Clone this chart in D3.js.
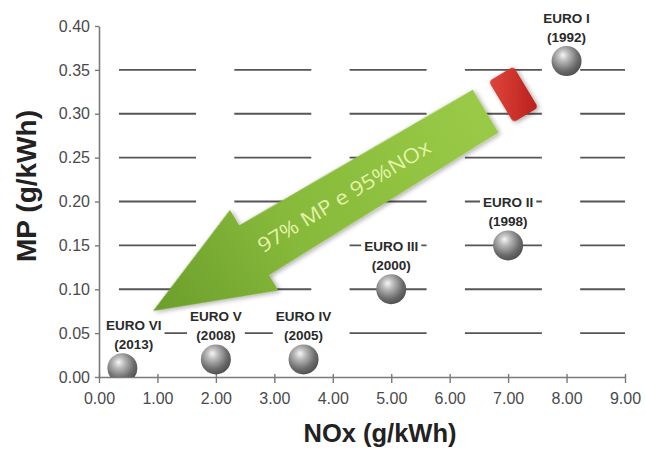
<!DOCTYPE html>
<html>
<head>
<meta charset="utf-8">
<script src="https://cdn.jsdelivr.net/npm/d3@7/dist/d3.min.js"></script>
<style>
  html, body { margin: 0; padding: 0; background: #fff; }
  svg { display: block; font-family: "Liberation Sans", Arial, sans-serif; }
</style>
</head>
<body>
<svg id="chart" width="646" height="451"></svg>
<script>
// Euro emission standards for heavy-duty engines
const stages = ["EURO I", "EURO II", "EURO III", "EURO IV", "EURO V", "EURO VI"];
const years  = ["(1992)", "(1998)", "(2000)", "(2005)", "(2008)", "(2013)"];
const noxValues = [8.0, 7.0, 5.0, 3.5, 2.0, 0.4];     // g/kWh
const mpValues  = [0.36, 0.15, 0.10, 0.02, 0.02, 0.01]; // g/kWh
const xTicks = [0, 1, 2, 3, 4, 5, 6, 7, 8, 9];
const yTicks = [0, 0.05, 0.10, 0.15, 0.20, 0.25, 0.30, 0.35, 0.40];
const gridValues = [0.05, 0.10, 0.15, 0.20, 0.25, 0.30, 0.35];
const arrowText = "97% MP e 95%NOx";
const xTitle = "NOx (g/kWh)";
const yTitle = "MP (g/kWh)";

const svg = d3.select("#chart");
const x = d3.scaleLinear().domain([0, 9]).range([99, 625]);
const y = d3.scaleLinear().domain([0, 0.4]).range([377, 26]);
const fmt = d3.format(".2f");

const defs = svg.append("defs");

// sphere shading
const sg = defs.append("radialGradient").attr("id", "sphere")
  .attr("cx", "40%").attr("cy", "35%").attr("r", "65%").attr("fx", "38%").attr("fy", "30%");
sg.append("stop").attr("offset", "0%").attr("stop-color", "#f6f6f6");
sg.append("stop").attr("offset", "30%").attr("stop-color", "#b8b8b8");
sg.append("stop").attr("offset", "75%").attr("stop-color", "#6c6c6c");
sg.append("stop").attr("offset", "100%").attr("stop-color", "#525252");

// arrow fill
const ag = defs.append("linearGradient").attr("id", "arrowFill")
  .attr("gradientUnits", "userSpaceOnUse")
  .attr("x1", 0).attr("y1", 0).attr("x2", 390).attr("y2", 0);
ag.append("stop").attr("offset", "0%").attr("stop-color", "#6b9d2b");
ag.append("stop").attr("offset", "40%").attr("stop-color", "#86b93a");
ag.append("stop").attr("offset", "100%").attr("stop-color", "#9aca47");

const rg = defs.append("linearGradient").attr("id", "capFill")
  .attr("x1", "0%").attr("y1", "0%").attr("x2", "100%").attr("y2", "100%");
rg.append("stop").attr("offset", "0%").attr("stop-color", "#e0463c");
rg.append("stop").attr("offset", "100%").attr("stop-color", "#b91f1c");

const shadow = defs.append("filter").attr("id", "soft")
  .attr("x", "-20%").attr("y", "-20%").attr("width", "140%").attr("height", "140%");
shadow.append("feGaussianBlur").attr("in", "SourceAlpha").attr("stdDeviation", 2.5).attr("result", "b");
shadow.append("feOffset").attr("in", "b").attr("dx", 1).attr("dy", 2).attr("result", "o");
shadow.append("feComponentTransfer").attr("in", "o").attr("result", "s")
  .append("feFuncA").attr("type", "linear").attr("slope", 0.35);
const merge = shadow.append("feMerge");
merge.append("feMergeNode").attr("in", "s");
merge.append("feMergeNode").attr("in", "SourceGraphic");

defs.append("clipPath").attr("id", "plotClip")
  .append("rect").attr("x", x(0)).attr("y", 0).attr("width", x(9) - x(0) + 20).attr("height", y(0));

// dashed horizontal gridlines
svg.append("g").selectAll("line").data(gridValues).join("line")
  .attr("x1", x(0) + 20).attr("x2", x(9))
  .attr("y1", d => y(d)).attr("y2", d => y(d))
  .attr("stroke", "#555").attr("stroke-width", 1.8)
  .attr("stroke-dasharray", "77 38.3");

// axes
const yAxis = svg.append("g").attr("transform", `translate(${x(0)},0)`)
  .call(d3.axisLeft(y).tickValues(yTicks).tickFormat(fmt).tickSize(4).tickSizeOuter(0).tickPadding(5));
const xAxis = svg.append("g").attr("transform", `translate(0,${y(0)})`)
  .call(d3.axisBottom(x).tickValues(xTicks).tickFormat(fmt).tickSize(6).tickSizeOuter(0).tickPadding(10));
xAxis.selectAll(".tick line").attr("y1", -3);
[xAxis, yAxis].forEach(a => {
  a.select(".domain").attr("stroke", "#7a7a7a").attr("stroke-width", 1.6);
  a.selectAll(".tick line").attr("stroke", "#7a7a7a").attr("stroke-width", 1.4);
  a.selectAll(".tick text").attr("fill", "#4a4a4a")
    .style("font-size", "16px").style("font-family", "'Liberation Sans', Arial, sans-serif");
});

// axis titles
svg.append("text").attr("x", 380).attr("y", 442).attr("text-anchor", "middle")
  .style("font-size", "25.5px").style("font-weight", "bold").attr("fill", "#222").text(xTitle);
svg.append("text").attr("transform", "translate(36,186) rotate(-90)").attr("text-anchor", "middle")
  .style("font-size", "28px").style("font-weight", "bold").attr("fill", "#222").text(yTitle);

// reduction arrow from EURO I toward EURO VI
const arrow = svg.append("g").attr("transform", "translate(153,311) rotate(-31)");
const headLen = 118, headHalf = 47, shaftEnd = 388;
const arrowPath = d3.path();
arrowPath.moveTo(0, 0);
arrowPath.lineTo(headLen, -headHalf);
arrowPath.lineTo(headLen, -29);
arrowPath.lineTo(shaftEnd, -25);
arrowPath.lineTo(shaftEnd, 25);
arrowPath.lineTo(headLen, 29);
arrowPath.lineTo(headLen, headHalf);
arrowPath.closePath();
arrow.append("path").attr("d", arrowPath.toString())
  .attr("fill", "url(#arrowFill)").attr("filter", "url(#soft)");
arrow.append("rect").attr("x", 406).attr("y", -24).attr("width", 29).attr("height", 48)
  .attr("rx", 4).attr("fill", "url(#capFill)").attr("filter", "url(#soft)");
arrow.append("text").attr("x", 223).attr("y", 7).attr("text-anchor", "middle")
  .attr("textLength", 198).attr("lengthAdjust", "spacingAndGlyphs")
  .style("font-size", "20px").style("font-family", "'Open Sans', 'Liberation Sans', sans-serif")
  .attr("fill", "#e4f3a8").text(arrowText);

// stage labels with white backing
const pts = stages.map((s, i) => ({ name: s, year: years[i], nox: noxValues[i], mp: mpValues[i] }));
const labelSize = 13.5;
const labels = svg.append("g");
pts.forEach(d => {
  const g = labels.append("g");
  const t1 = g.append("text").attr("text-anchor", "middle").attr("y", -38)
    .style("font-size", labelSize + "px").style("font-weight", "bold").attr("fill", "#2a2a2a").text(d.name);
  const t2 = g.append("text").attr("text-anchor", "middle").attr("y", -19)
    .style("font-size", labelSize + "px").style("font-weight", "bold").attr("fill", "#2a2a2a").text(d.year);
  const w = Math.max(t1.node().getComputedTextLength(), t2.node().getComputedTextLength()) + 6;
  g.insert("rect", "text").attr("x", -w / 2).attr("y", -50).attr("width", w).attr("height", 35).attr("fill", "#fff");
  // keep the block clear of the vertical axis
  const cx = Math.max(x(d.nox), x(0) + 4 + w / 2);
  g.attr("transform", `translate(${cx},${y(d.mp)})`);
});

// spheres
svg.append("g").attr("clip-path", "url(#plotClip)")
  .selectAll("circle").data(pts).join("circle")
  .attr("cx", d => x(d.nox)).attr("cy", d => y(d.mp)).attr("r", 15)
  .attr("fill", "url(#sphere)");
</script>
</body>
</html>
